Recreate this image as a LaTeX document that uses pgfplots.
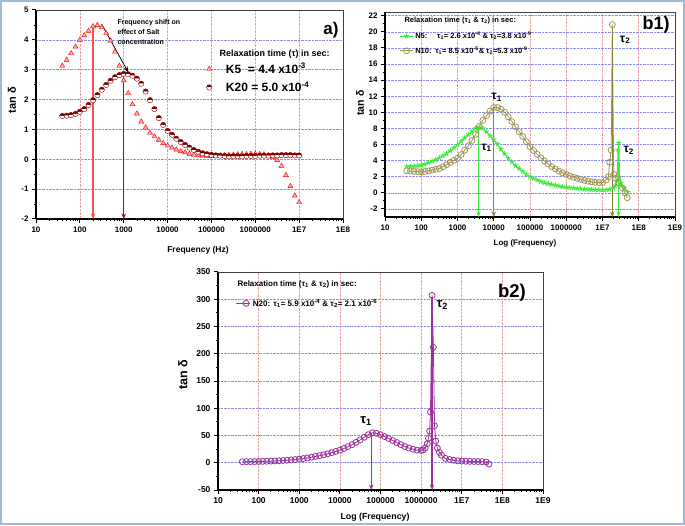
\documentclass[border=0pt]{standalone}
\usepackage{fontspec}
\setmainfont{Liberation Sans}
\usepackage{pgfplots}
\pgfplotsset{compat=1.18}
\usetikzlibrary{arrows.meta}
\definecolor{frameblue}{RGB}{160,185,215}
\definecolor{kred}{RGB}{255,0,0}
\definecolor{kredarrow}{RGB}{255,80,80}
\definecolor{kmaroon}{RGB}{128,0,0}
\definecolor{kmaroonarrow}{RGB}{140,20,30}
\definecolor{ngreen}{RGB}{60,235,60}
\definecolor{nolive}{RGB}{160,150,88}
\definecolor{nolivedark}{RGB}{140,128,60}
\definecolor{npurple}{RGB}{153,51,153}
\definecolor{gridred}{RGB}{230,160,160}
\definecolor{gridblue}{RGB}{140,140,240}
\pgfplotsset{
  every axis/.append style={
    scale only axis,
    axis x line*=bottom, axis y line*=left,
    axis line style={-, line width=1.4pt, black},
    tick align=outside,
    major tick length=4pt, minor tick length=2.2pt,
    xmajorgrids, ymajorgrids,
    /pgf/number format/assume math mode=true,
    minor y tick num=1,
    clip=false,
    legend cell align=left,
  },
  every major tick/.append style={line width=1pt, black},
  every minor tick/.append style={line width=0.8pt, black},
  every axis x grid/.append style={densely dotted, color=gridred, line width=0.6pt},
  every axis y grid/.append style={densely dotted, color=gridblue, line width=0.6pt},
}
\tikzset{arr/.style={line width=1.2pt, -{Stealth[length=5.5pt,width=4.5pt]}}}
\newcommand{\boxtopright}{\draw[black!75, line width=0.6pt] (rel axis cs:0,1) -- (rel axis cs:1,1) -- (rel axis cs:1,0);}
\begin{document}
\begin{tikzpicture}
\useasboundingbox (0,0) rectangle (685pt,525pt);
\draw[frameblue, line width=2pt] (1pt,1pt) rectangle (684pt,524pt);

% ---------------- Panel a ----------------
\begin{axis}[xmode=log, at={(36pt,306pt)}, anchor=south west, width=307pt, height=209pt,
  xmin=10, xmax=1e8, ymin=-2, ymax=5,
  xtick={10,100,1000,10000,100000,1000000,10000000,100000000},
  xticklabels={10,100,1000,10000,100000,1000000,1E7,1E8},
  minor xtick={2e1,3e1,4e1,5e1,6e1,7e1,8e1,9e1,2e2,3e2,4e2,5e2,6e2,7e2,8e2,9e2,2e3,3e3,4e3,5e3,6e3,7e3,8e3,9e3,2e4,3e4,4e4,5e4,6e4,7e4,8e4,9e4,2e5,3e5,4e5,5e5,6e5,7e5,8e5,9e5,2e6,3e6,4e6,5e6,6e6,7e6,8e6,9e6,2e7,3e7,4e7,5e7,6e7,7e7,8e7,9e7},
  ytick={-2,-1,0,1,2,3,4,5},
  tick label style={font=\bfseries\fontsize{8}{9}\selectfont},
  legend style={at={(rel axis cs:0.545,0.765)}, anchor=north west, draw=none, fill=none,
    font=\bfseries\fontsize{12}{13}\selectfont, row sep=3pt,
    /tikz/every odd column/.append style={column sep=12pt}},
]
\addplot[only marks, mark=triangle*, mark size=2.9pt, color=kred, fill=kred!35] coordinates {
(39.8,3.13)(50.1,3.33)(63.1,3.55)(79.4,3.77)(100,4.00)(126,4.15)(158,4.30)(200,4.45)(251,4.49)(316,4.42)
(398,4.22)(501,3.97)(631,3.60)(794,3.13)(1000,2.64)(1260,2.21)(1580,1.84)(2000,1.53)(2510,1.26)(3160,1.06)
(3980,0.88)(5010,0.76)(6310,0.65)(7940,0.54)(1e4,0.46)(1.26e4,0.39)(1.58e4,0.32)(2e4,0.27)(2.51e4,0.23)(3.16e4,0.18)
(3.98e4,0.15)(5.01e4,0.13)(6.31e4,0.12)(7.94e4,0.11)(1e5,0.10)(1.26e5,0.11)(1.58e5,0.12)(2e5,0.13)(2.51e5,0.14)(3.16e5,0.15)
(3.98e5,0.16)(5.01e5,0.17)(6.31e5,0.17)(7.94e5,0.18)(1e6,0.18)(1.26e6,0.17)(1.58e6,0.16)(2e6,0.13)(2.51e6,0.08)(3.16e6,-0.03)
(3.98e6,-0.22)(5.01e6,-0.53)(6.31e6,-0.90)(7.94e6,-1.22)(1e7,-1.44)};
\addlegendentry{K5\ \ = 4.4 x10\textsuperscript{-3}}
\addplot[only marks, mark=halfcircle*, mark size=2.7pt, color=kmaroon, fill=kmaroon] coordinates {
(39.8,1.45)(50.1,1.46)(63.1,1.48)(79.4,1.52)(100,1.59)(126,1.68)(158,1.82)(200,1.98)(251,2.15)(316,2.33)
(398,2.49)(501,2.63)(631,2.75)(794,2.82)(1000,2.86)(1260,2.85)(1580,2.80)(2000,2.70)(2510,2.53)(3160,2.27)
(3980,1.98)(5010,1.68)(6310,1.38)(7940,1.15)(1e4,0.95)(1.26e4,0.82)(1.58e4,0.69)(2e4,0.58)(2.51e4,0.48)(3.16e4,0.39)
(3.98e4,0.31)(5.01e4,0.25)(6.31e4,0.20)(7.94e4,0.17)(1e5,0.15)(1.26e5,0.13)(1.58e5,0.12)(2e5,0.11)(2.51e5,0.10)(3.16e5,0.10)
(3.98e5,0.10)(5.01e5,0.10)(6.31e5,0.11)(7.94e5,0.11)(1e6,0.11)(1.26e6,0.12)(1.58e6,0.12)(2e6,0.12)(2.51e6,0.13)(3.16e6,0.13)
(3.98e6,0.14)(5.01e6,0.14)(6.31e6,0.14)(7.94e6,0.13)(1e7,0.13)};
\addlegendentry{K20 = 5.0 x10\textsuperscript{-4}}
\draw[arr, draw=kredarrow, fill=kredarrow] (axis cs:200,4.45) -- (axis cs:200,-2);
\draw[arr, draw=kmaroonarrow, fill=kmaroonarrow, line width=0.9pt] (axis cs:1000,2.86) -- (axis cs:1000,-2);
\draw[arr, draw=black, fill=black, line width=0.7pt] (axis cs:314,4.53) -- (axis cs:1260,2.92);
\boxtopright
\end{axis}
\node[anchor=north west, align=left, font=\bfseries\fontsize{7}{10}\selectfont] at (114pt,509pt)
  {Frequency shift on\\effect of Salt\\concentration};
\node[anchor=west, font=\bfseries\fontsize{9}{10}\selectfont] at (216pt,471pt) {Relaxation time (τ) in sec:};
\node[font=\bfseries\fontsize{17}{18}\selectfont] at (331pt,495pt) {a)};
\node[font=\bfseries\fontsize{8.5}{10}\selectfont] at (198pt,275pt) {Frequency (Hz)};
\node[rotate=90, font=\bfseries\fontsize{11}{12}\selectfont] at (12pt,425pt) {tan δ};

% ---------------- Panel b1 ----------------
\begin{axis}[xmode=log, at={(385pt,308pt)}, anchor=south west, width=290pt, height=204.5pt,
  xmin=10, xmax=1e9, ymin=-3, ymax=22.4,
  xtick={10,100,1000,10000,100000,1000000,10000000,100000000,1000000000},
  xticklabels={10,100,1000,10000,100000,1000000,1E7,1E8,1E9},
  minor xtick={2e1,3e1,4e1,5e1,6e1,7e1,8e1,9e1,2e2,3e2,4e2,5e2,6e2,7e2,8e2,9e2,2e3,3e3,4e3,5e3,6e3,7e3,8e3,9e3,2e4,3e4,4e4,5e4,6e4,7e4,8e4,9e4,2e5,3e5,4e5,5e5,6e5,7e5,8e5,9e5,2e6,3e6,4e6,5e6,6e6,7e6,8e6,9e6,2e7,3e7,4e7,5e7,6e7,7e7,8e7,9e7,2e8,3e8,4e8,5e8,6e8,7e8,8e8,9e8},
  ytick={-2,0,2,4,6,8,10,12,14,16,18,20,22},
  tick label style={font=\bfseries\fontsize{8}{9}\selectfont},
  legend style={at={(rel axis cs:0.04,0.925)}, anchor=north west, draw=none, fill=none,
    font=\bfseries\fontsize{7.5}{8.5}\selectfont, row sep=2.5pt},
  legend image code/.code={\draw[mark repeat=2,mark phase=2,#1] plot coordinates {(0cm,0cm) (0.22cm,0cm) (0.44cm,0cm)};},
]
\addplot[color=ngreen, line width=1pt, mark=star, mark size=2.6pt] coordinates {
(39.8,3.27)(50.1,3.29)(63.1,3.32)(79.4,3.38)(100,3.46)(126,3.58)(158,3.74)(200,3.93)(251,4.12)(316,4.35)
(398,4.60)(501,4.90)(631,5.25)(794,5.60)(1000,5.95)(1260,6.40)(1580,6.85)(2000,7.25)(2510,7.65)(3160,8.00)
(3980,8.15)(5010,8.00)(6310,7.60)(7940,7.10)(1e4,6.60)(1.26e4,6.05)(1.58e4,5.45)(2e4,4.85)(2.51e4,4.30)(3.16e4,3.85)
(3.98e4,3.40)(5.01e4,3.00)(6.31e4,2.65)(7.94e4,2.30)(1e5,2.01)(1.26e5,1.80)(1.58e5,1.60)(2e5,1.42)(2.51e5,1.27)(3.16e5,1.15)
(3.98e5,1.04)(5.01e5,0.94)(6.31e5,0.85)(7.94e5,0.77)(1e6,0.70)(1.26e6,0.65)(1.58e6,0.60)(2e6,0.55)(2.51e6,0.50)(3.16e6,0.47)
(3.98e6,0.44)(5.01e6,0.42)(6.31e6,0.40)(7.94e6,0.38)(1e7,0.37)(1.26e7,0.37)(1.58e7,0.45)(2e7,0.60)(2.24e7,0.90)(2.51e7,1.50)
(2.69e7,5.30)(2.82e7,6.20)(2.95e7,1.90)(3.16e7,1.20)(3.98e7,0.60)(5.01e7,0.10)};
\addlegendentry{N5:\hspace{1.3em}τ\textsubscript{1}= 2.6 x10\textsuperscript{-4} \& τ\textsubscript{2}=3.8 x10\textsuperscript{-9}}
\addplot[color=nolive, line width=0.8pt, mark=o, mark size=3pt, mark options={fill=white}] coordinates {
(39.8,2.74)(50.1,2.70)(63.1,2.66)(79.4,2.63)(100,2.63)(126,2.66)(158,2.73)(200,2.83)(251,2.93)(316,3.03)
(398,3.25)(501,3.50)(631,3.78)(794,4.03)(1000,4.29)(1260,4.75)(1580,5.30)(2000,5.85)(2510,6.50)(3160,7.25)
(3980,8.25)(5010,9.00)(6310,9.60)(7940,10.15)(1e4,10.60)(1.26e4,10.60)(1.58e4,10.40)(2e4,10.00)(2.51e4,9.45)(3.16e4,8.85)
(3.98e4,8.20)(5.01e4,7.60)(6.31e4,7.00)(7.94e4,6.35)(1e5,5.74)(1.26e5,5.25)(1.58e5,4.78)(2e5,4.35)(2.51e5,3.95)(3.16e5,3.60)
(3.98e5,3.27)(5.01e5,2.97)(6.31e5,2.70)(7.94e5,2.48)(1e6,2.28)(1.26e6,2.10)(1.58e6,1.93)(2e6,1.80)(2.51e6,1.67)(3.16e6,1.55)
(3.98e6,1.45)(5.01e6,1.37)(6.31e6,1.31)(7.94e6,1.27)(1e7,1.27)(1.26e7,1.60)(1.45e7,2.00)(1.58e7,3.80)(1.74e7,5.30)(1.86e7,20.90)
(2.04e7,2.30)(2.29e7,1.80)(2.82e7,1.20)(3.55e7,0.60)(4.17e7,0.00)(4.79e7,-0.60)};
\addlegendentry{N10:\hspace{0.5em}τ\textsubscript{1}= 8.5 x10\textsuperscript{-5}\& τ\textsubscript{2}=5.3 x10\textsuperscript{-9}}
\draw[arr, draw=ngreen, fill=ngreen] (axis cs:3800,8.1) -- (axis cs:3800,-3);
\draw[arr, draw=nolivedark, fill=nolivedark] (axis cs:1e4,10.6) -- (axis cs:1e4,-3);
\draw[arr, draw=nolivedark, fill=nolivedark] (axis cs:1.86e7,20.6) -- (axis cs:1.86e7,-3);
\draw[arr, draw=ngreen, fill=ngreen] (axis cs:2.77e7,6.2) -- (axis cs:2.77e7,-3);
\node[font=\bfseries\fontsize{12}{13}\selectfont] at (axis cs:1.2e4,11.9) {τ\textsubscript{1}};
\node[font=\bfseries\fontsize{12}{13}\selectfont] at (axis cs:6300,5.6) {τ\textsubscript{1}};
\node[font=\bfseries\fontsize{12}{13}\selectfont] at (axis cs:4.2e7,19.0) {τ\textsubscript{2}};
\node[font=\bfseries\fontsize{12}{13}\selectfont] at (axis cs:5.3e7,5.3) {τ\textsubscript{2}};
\boxtopright
\end{axis}
\node[anchor=west, font=\bfseries\fontsize{7.5}{8.5}\selectfont] at (401pt,504.5pt) {Relaxation time (τ\textsubscript{1} \& τ\textsubscript{2}) in sec:};
\node[font=\bfseries\fontsize{18}{19}\selectfont] at (656pt,500pt) {b1)};
\node[font=\bfseries\fontsize{8}{10}\selectfont] at (525pt,282pt) {Log (Frequency)};
\node[rotate=90, font=\bfseries\fontsize{10.5}{12}\selectfont] at (360pt,422pt) {tan δ};

% ---------------- Panel b2 ----------------
\begin{axis}[xmode=log, at={(218pt,35pt)}, anchor=south west, width=325pt, height=218pt,
  xmin=10, xmax=1e9, ymin=-50, ymax=350,
  xtick={10,100,1000,10000,100000,1000000,10000000,100000000,1000000000},
  xticklabels={10,100,1000,10000,100000,1000000,1E7,1E8,1E9},
  minor xtick={2e1,3e1,4e1,5e1,6e1,7e1,8e1,9e1,2e2,3e2,4e2,5e2,6e2,7e2,8e2,9e2,2e3,3e3,4e3,5e3,6e3,7e3,8e3,9e3,2e4,3e4,4e4,5e4,6e4,7e4,8e4,9e4,2e5,3e5,4e5,5e5,6e5,7e5,8e5,9e5,2e6,3e6,4e6,5e6,6e6,7e6,8e6,9e6,2e7,3e7,4e7,5e7,6e7,7e7,8e7,9e7,2e8,3e8,4e8,5e8,6e8,7e8,8e8,9e8},
  ytick={-50,0,50,100,150,200,250,300,350},
  tick label style={font=\bfseries\fontsize{8.5}{10}\selectfont},
  legend style={at={(rel axis cs:0.045,0.895)}, anchor=north west, draw=none, fill=none,
    font=\bfseries\fontsize{8}{9}\selectfont},
  legend image code/.code={\draw[mark repeat=2,mark phase=2,#1] plot coordinates {(0cm,0cm) (0.35cm,0cm) (0.5cm,0cm)};},
]
\addplot[color=npurple, line width=0.8pt, mark=o, mark size=3pt, mark options={fill=white}] coordinates {
(39.8,2.0)(50.1,2.0)(63.1,2.1)(79.4,2.2)(100,2.3)(126,2.5)(158,2.7)(200,3.0)(251,3.3)(316,3.7)
(398,4.1)(501,4.6)(631,5.2)(794,5.9)(1000,6.7)(1260,7.7)(1580,8.9)(2000,10.2)(2510,11.6)(3160,13.0)
(3980,14.5)(5010,16.5)(6310,18.6)(7940,20.8)(1e4,23.2)(1.26e4,26.2)(1.58e4,29.5)(2e4,33.2)(2.51e4,37.5)(3.16e4,42.0)
(3.98e4,46.8)(5.01e4,51.5)(6.31e4,55.0)(7.94e4,54.0)(1e5,51.5)(1.26e5,48.0)(1.58e5,44.5)(2e5,40.8)(2.51e5,37.0)(3.16e5,33.2)
(3.98e5,29.8)(5.01e5,27.0)(6.31e5,24.8)(7.94e5,23.2)(1e6,22.5)(1.12e6,23.5)(1.26e6,27)(1.41e6,35)(1.51e6,45)(1.62e6,58)
(1.70e6,93)(1.86e6,307)(2.0e6,212)(2.14e6,68)(2.29e6,40)(2.51e6,27)(2.82e6,19)(3.16e6,14)(3.98e6,8)(5.01e6,6)
(6.31e6,4.5)(7.94e6,3.5)(1e7,3.0)(1.26e7,2.7)(1.58e7,2.5)(2e7,2.3)(2.51e7,2.2)(3.16e7,2.0)(3.98e7,1.5)(4.68e7,-2.4)};
\addlegendentry{N20:\hspace{0.4em}τ\textsubscript{1}= 5.9 x10\textsuperscript{-4} \& τ\textsubscript{2}= 2.1 x10\textsuperscript{-6}}
\draw[arr, draw=npurple, fill=npurple] (axis cs:5.9e4,55) -- (axis cs:5.9e4,-50);
\draw[arr, draw=npurple, fill=npurple] (axis cs:1.86e6,305) -- (axis cs:1.86e6,-50);
\node[font=\bfseries\fontsize{13}{14}\selectfont] at (axis cs:4.4e4,77) {τ\textsubscript{1}};
\node[font=\bfseries\fontsize{13}{14}\selectfont] at (axis cs:3.3e6,290) {τ\textsubscript{2}};
\boxtopright
\end{axis}
\node[anchor=west, font=\bfseries\fontsize{8}{9}\selectfont] at (234pt,241pt) {Relaxation time (τ\textsubscript{1} \& τ\textsubscript{2}) in sec:};
\node[font=\bfseries\fontsize{18.5}{19}\selectfont] at (512pt,232pt) {b2)};
\node[font=\bfseries\fontsize{8.8}{10}\selectfont] at (375pt,8pt) {Log (Frequency)};
\node[rotate=90, font=\bfseries\fontsize{12.5}{14}\selectfont] at (183pt,150pt) {tan δ};
\end{tikzpicture}
\end{document}
